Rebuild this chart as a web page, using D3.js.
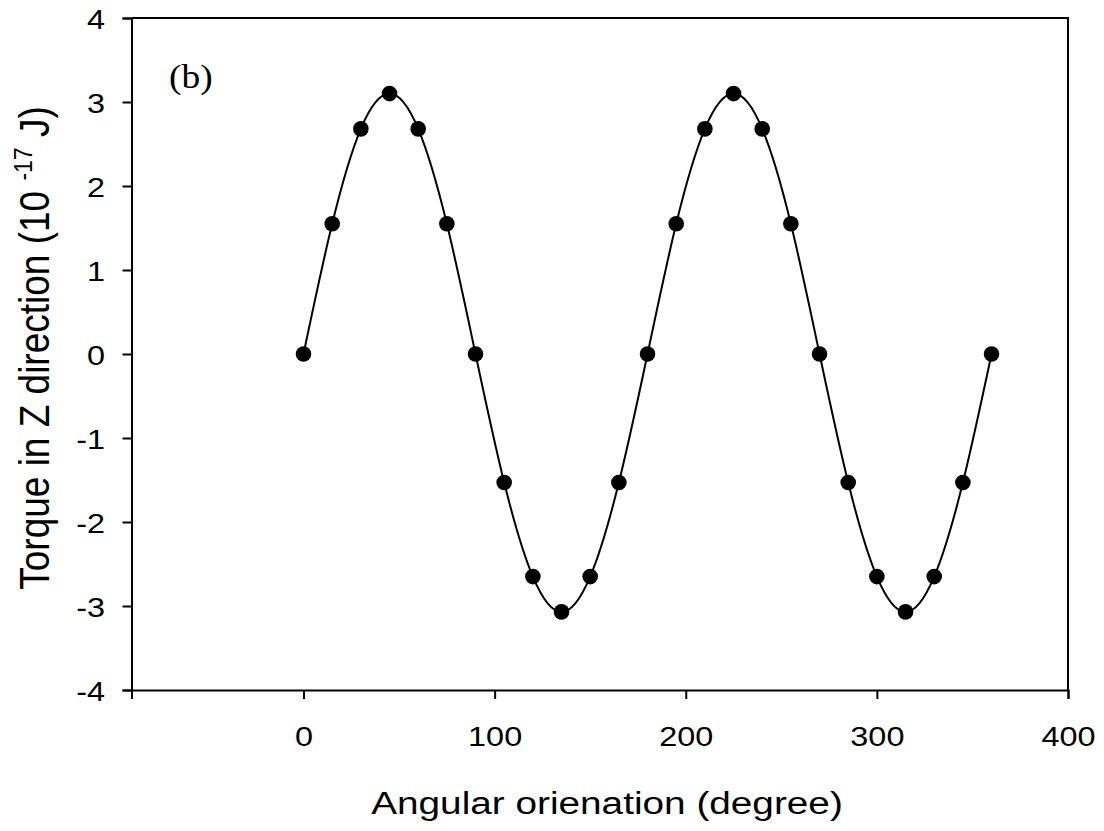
<!DOCTYPE html>
<html>
<head>
<meta charset="utf-8">
<script src="https://cdn.jsdelivr.net/npm/d3@7"></script>
<style>
  html, body { margin: 0; padding: 0; background: #fff; }
  svg text { font-family: Arial, "Liberation Sans", sans-serif; fill: #000; }
</style>
</head>
<body>
<svg id="chart" width="1104" height="831"></svg>
<script>
// Torque about Z versus angular orientation, sampled every 15 degrees
const angles = [0, 15, 30, 45, 60, 75, 90, 105, 120, 135, 150, 165, 180,
                195, 210, 225, 240, 255, 270, 285, 300, 315, 330, 345, 360];
const torque = [0, 1.55, 2.68, 3.10, 2.68, 1.55, 0, -1.53, -2.65, -3.07, -2.65, -1.53, 0,
                1.55, 2.68, 3.10, 2.68, 1.55, 0, -1.53, -2.65, -3.07, -2.65, -1.53, 0];
const xTicks = [0, 100, 200, 300, 400];
const yTicks = [-4, -3, -2, -1, 0, 1, 2, 3, 4];

const svg = d3.select("#chart");
const plotLeft = 131.5, plotRight = 1068, plotTop = 18, plotBottom = 690;
const wide = 1.2;      // horizontal widening of the lettering

const x = d3.scaleLinear().domain([-90, 400]).range([plotLeft, plotRight]);
const y = d3.scaleLinear().domain([-4, 4]).range([plotBottom, plotTop]);

const data = angles.map((a, i) => ({ a, t: torque[i] }));

// Frame: top and right edges
svg.append("path")
  .attr("d", `M${plotLeft},${plotTop}H${plotRight}V${plotBottom}`)
  .attr("fill", "none").attr("stroke", "#000").attr("stroke-width", 2);

// Axes (plain hyphen for negative labels)
const fmt = d => String(d);
const xAxis = svg.append("g")
  .attr("transform", `translate(0,${plotBottom})`)
  .call(d3.axisBottom(x).tickValues(xTicks).tickFormat(fmt).tickSizeOuter(0).tickSize(9));
const yAxis = svg.append("g")
  .attr("transform", `translate(${plotLeft},0)`)
  .call(d3.axisLeft(y).tickValues(yTicks).tickFormat(fmt).tickSizeOuter(0).tickSize(9));

[xAxis, yAxis].forEach(g => {
  g.select(".domain").attr("stroke", "#000").attr("stroke-width", 2);
  g.selectAll(".tick line").attr("stroke", "#000").attr("stroke-width", 2);
  g.selectAll(".tick text")
    .attr("font-family", "Arial, 'Liberation Sans', sans-serif")
    .attr("font-size", 27).attr("fill", "#000")
    .attr("transform", `scale(${wide},1)`);
});
xAxis.selectAll(".tick text").attr("y", 56).attr("dy", 0);
yAxis.selectAll(".tick text").attr("x", -26.5 / wide).attr("dy", "0.38em");

// Smooth fitted curve through the samples
const line = d3.line().x(d => x(d.a)).y(d => y(d.t)).curve(d3.curveNatural);
svg.append("path").datum(data)
  .attr("d", line)
  .attr("fill", "none").attr("stroke", "#000").attr("stroke-width", 2);

// Sample markers
svg.append("g").selectAll("circle").data(data).join("circle")
  .attr("cx", d => x(d.a)).attr("cy", d => y(d.t)).attr("r", 7.8)
  .attr("fill", "#000");

// Panel label
svg.append("text")
  .attr("transform", `translate(169,88) scale(1.1,1)`)
  .attr("font-size", 34)
  .style("font-family", "'Times New Roman', 'Liberation Serif', serif")
  .text("(b)");

// Axis titles
svg.append("text")
  .attr("transform", `translate(607,814) scale(1.25,1)`)
  .attr("text-anchor", "middle").attr("font-size", 31)
  .text("Angular orienation (degree)");

const yt = svg.append("text")
  .attr("transform", `translate(49,348) rotate(-90) scale(1,1.15)`)
  .attr("text-anchor", "middle").attr("font-size", 37);
yt.append("tspan").text("Torque in Z direction (10 ");
yt.append("tspan").attr("font-size", 23).attr("dy", -15).text("-17");
yt.append("tspan").attr("dy", 15).text(" J)");
</script>
</body>
</html>
